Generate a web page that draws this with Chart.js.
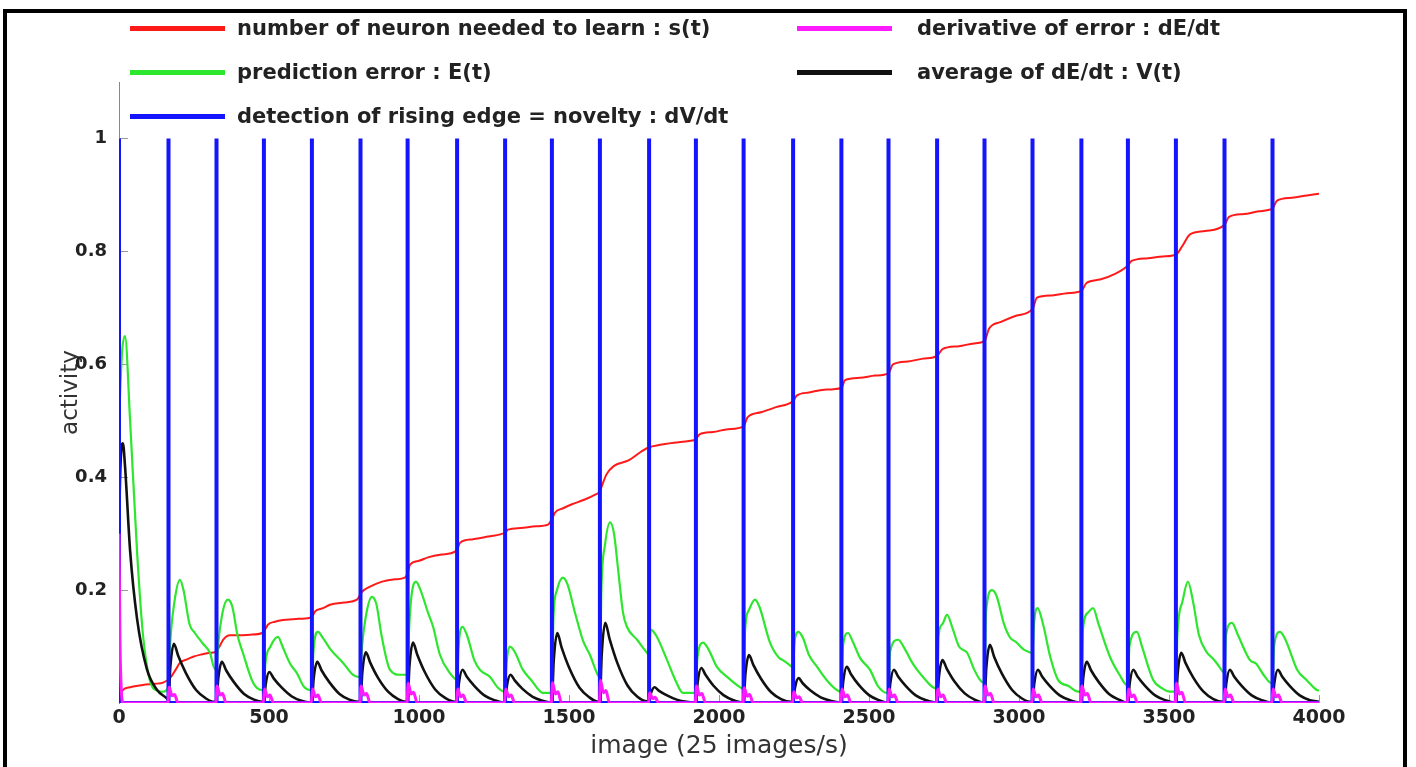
<!DOCTYPE html>
<html>
<head>
<meta charset="utf-8">
<script src="https://cdn.jsdelivr.net/npm/chart.js@4"></script>
<style>
  body { margin: 0; background: #fff; width: 1416px; height: 767px; overflow: hidden; position: relative; font-family: "DejaVu Sans", sans-serif; }
  #frame { position: absolute; left: 3px; top: 9px; width: 1396px; height: 800px; border: 4px solid #000; }
  #wrap { position: absolute; left: 0; top: 0; width: 1416px; height: 767px; }
  .leg { position: absolute; height: 24px; display: flex; align-items: center; font-weight: bold; font-size: 21px; color: #222; white-space: nowrap; }
  .leg .sw { display: inline-block; width: 95px; height: 5px; }
</style>
</head>
<body>
<div id="frame"></div>
<div id="wrap"><canvas id="chart"></canvas></div>
<div id="legend"></div>
<script>
// series labels and colours
const labels = {
  s: "number of neuron needed to learn : s(t)",
  dE: "derivative of error : dE/dt",
  E: "prediction error : E(t)",
  V: "average of dE/dt : V(t)",
  dV: "detection of rising edge = novelty : dV/dt",
};

const xTicks = [0, 500, 1000, 1500, 2000, 2500, 3000, 3500, 4000];
const yTicks = [0.2, 0.4, 0.6, 0.8, 1];

// novelty spikes (image index where dV/dt fires)
const blueX = [0, 165, 325, 483, 643, 805, 962, 1127, 1287, 1443, 1603, 1767, 1923,
  2082, 2247, 2408, 2565, 2727, 2885, 3045, 3208, 3363, 3523, 3685, 3845];
const blueY = [1, 1, 1, 1, 1, 1, 1, 1, 1, 1, 1, 1, 1, 1, 1, 1, 1, 1, 1, 1, 1, 1, 1, 1, 1];

// s(t)
const redPts = [[0,0.012],[13,0.023],[37,0.028],[80,0.032],[120,0.034],[147,0.036],[170,0.044],[190,0.06],
  [203,0.071],[225,0.077],[247,0.082],[275,0.086],[303,0.089],[320,0.09],[335,0.1],[347,0.112],[370,0.12],
  [400,0.12],[437,0.121],[477,0.124],[490,0.133],[497,0.139],[520,0.144],[547,0.147],[590,0.149],[637,0.151],
  [648,0.157],[653,0.162],[680,0.168],[703,0.174],[750,0.178],[793,0.183],[810,0.197],[840,0.207],[877,0.215],
  [920,0.219],[953,0.222],[962,0.23],[970,0.245],[1000,0.252],[1030,0.258],[1075,0.263],[1120,0.268],
  [1130,0.276],[1137,0.284],[1180,0.29],[1230,0.295],[1287,0.302],[1297,0.307],[1340,0.31],[1390,0.313],
  [1430,0.316],[1445,0.328],[1453,0.337],[1480,0.345],[1510,0.352],[1550,0.36],[1587,0.369],[1603,0.375],
  [1610,0.385],[1625,0.405],[1650,0.42],[1700,0.43],[1740,0.445],[1767,0.453],[1800,0.457],[1850,0.461],
  [1900,0.464],[1923,0.467],[1935,0.476],[1980,0.48],[2030,0.485],[2082,0.49],[2095,0.506],[2140,0.515],
  [2190,0.524],[2247,0.535],[2260,0.545],[2300,0.55],[2350,0.555],[2408,0.558],[2420,0.572],[2470,0.576],
  [2520,0.58],[2565,0.584],[2580,0.6],[2630,0.605],[2680,0.61],[2727,0.615],[2745,0.627],[2800,0.632],
  [2850,0.637],[2885,0.641],[2900,0.663],[2940,0.675],[2990,0.686],[3045,0.698],[3060,0.718],[3110,0.722],
  [3160,0.726],[3208,0.73],[3225,0.744],[3270,0.75],[3320,0.76],[3363,0.775],[3375,0.783],[3430,0.788],
  [3480,0.791],[3523,0.794],[3545,0.81],[3570,0.83],[3620,0.836],[3685,0.847],[3700,0.861],[3750,0.866],
  [3800,0.871],[3845,0.876],[3860,0.89],[3910,0.895],[3960,0.899],[4000,0.902]];

// E(t)
const greenPts = [[0,0.5],[10,0.62],[20,0.65],[37,0.5],[60,0.27],[80,0.12],[103,0.04],[127,0.022],[145,0.02],[165,0.03],
  [170,0.1],[185,0.18],[203,0.218],[215,0.2],[235,0.14],[253,0.124],[280,0.105],[303,0.089],[320,0.06],
  [325,0.06],[330,0.1],[345,0.16],[363,0.183],[378,0.17],[395,0.12],[413,0.089],[447,0.036],[477,0.023],[483,0.025],
  [488,0.07],[505,0.1],[530,0.117],[545,0.1],[570,0.07],[593,0.053],[615,0.03],[637,0.023],[643,0.025],
  [648,0.09],[663,0.126],[680,0.115],[705,0.095],[747,0.071],[780,0.05],[803,0.046],
  [810,0.1],[825,0.16],[843,0.188],[858,0.175],[875,0.12],[903,0.059],[937,0.05],[962,0.05],
  [967,0.13],[975,0.19],[990,0.215],[1005,0.2],[1030,0.16],[1047,0.135],[1070,0.085],[1103,0.053],[1127,0.041],
  [1132,0.1],[1145,0.135],[1160,0.12],[1185,0.075],[1203,0.059],[1237,0.046],[1263,0.027],[1287,0.02],
  [1292,0.07],[1303,0.1],[1320,0.09],[1345,0.06],[1375,0.04],[1413,0.018],[1443,0.018],
  [1448,0.15],[1460,0.2],[1480,0.222],[1495,0.21],[1520,0.16],[1547,0.11],[1570,0.085],[1593,0.053],[1603,0.045],
  [1608,0.2],[1620,0.28],[1637,0.32],[1650,0.3],[1665,0.23],[1680,0.16],[1693,0.135],[1727,0.112],[1760,0.089],[1767,0.085],
  [1772,0.13],[1790,0.12],[1827,0.076],[1855,0.04],[1880,0.018],[1923,0.018],
  [1928,0.08],[1947,0.107],[1965,0.095],[1993,0.064],[2030,0.045],[2070,0.028],[2082,0.025],
  [2087,0.13],[2100,0.165],[2120,0.183],[2135,0.17],[2170,0.107],[2200,0.08],[2213,0.076],[2243,0.064],[2247,0.062],
  [2252,0.11],[2265,0.126],[2280,0.115],[2300,0.085],[2327,0.064],[2360,0.04],[2393,0.023],[2408,0.02],
  [2413,0.1],[2430,0.124],[2445,0.11],[2470,0.08],[2503,0.059],[2530,0.03],[2560,0.018],[2565,0.018],
  [2570,0.09],[2597,0.112],[2615,0.1],[2640,0.075],[2660,0.059],[2690,0.04],[2713,0.028],[2727,0.026],
  [2732,0.12],[2745,0.14],[2760,0.156],[2780,0.13],[2800,0.1],[2827,0.089],[2850,0.06],[2870,0.041],[2885,0.035],
  [2890,0.16],[2910,0.2],[2925,0.19],[2950,0.14],[2970,0.116],[2990,0.108],[3015,0.095],[3040,0.089],[3045,0.088],
  [3050,0.14],[3062,0.168],[3080,0.14],[3105,0.08],[3130,0.041],[3165,0.03],[3197,0.02],[3208,0.02],
  [3213,0.13],[3230,0.16],[3247,0.168],[3265,0.14],[3303,0.082],[3335,0.05],[3360,0.032],[3363,0.032],
  [3368,0.1],[3393,0.126],[3410,0.1],[3447,0.041],[3480,0.025],[3503,0.02],[3523,0.02],
  [3528,0.12],[3545,0.18],[3563,0.215],[3580,0.18],[3600,0.12],[3627,0.089],[3640,0.082],[3660,0.07],[3680,0.055],[3685,0.053],
  [3690,0.12],[3710,0.142],[3730,0.12],[3770,0.076],[3790,0.07],[3815,0.05],[3837,0.036],[3845,0.035],
  [3850,0.1],[3870,0.126],[3890,0.11],[3927,0.059],[3960,0.04],[3993,0.023],[4000,0.022]];

// V(t)
const blackPts = [[0,0],[2,0.36],[13,0.46],[20,0.42],[37,0.27],[60,0.15],[93,0.06],[127,0.023],[160,0.008],
  [165,0.005],[171,0.063],[183,0.105],[197,0.084],[223,0.053],[257,0.023],[290,0.008],[318,0.002],
  [325,0.004],[331,0.044],[343,0.073],[357,0.058],[383,0.037],[417,0.016],[450,0.006],[478,0.002],
  [483,0.003],[489,0.033],[501,0.055],[515,0.044],[541,0.028],[575,0.012],[608,0.004],[636,0.001],
  [643,0.003],[649,0.044],[661,0.073],[675,0.058],[701,0.037],[735,0.016],[768,0.006],[798,0.002],
  [805,0.003],[811,0.054],[823,0.09],[837,0.072],[863,0.045],[897,0.02],[930,0.007],[958,0.002],
  [962,0.003],[968,0.064],[980,0.107],[994,0.086],[1020,0.054],[1054,0.024],[1087,0.009],[1120,0.002],
  [1127,0.003],[1133,0.035],[1145,0.059],[1159,0.047],[1185,0.03],[1219,0.013],[1252,0.005],[1282,0.001],
  [1287,0.002],[1293,0.03],[1305,0.05],[1319,0.04],[1345,0.025],[1379,0.011],[1412,0.004],[1438,0.001],
  [1443,0.003],[1449,0.074],[1461,0.124],[1475,0.099],[1501,0.062],[1535,0.027],[1568,0.01],[1598,0.002],
  [1603,0.004],[1609,0.085],[1621,0.142],[1635,0.114],[1661,0.071],[1695,0.031],[1728,0.011],[1760,0.003],
  [1767,0.003],[1773,0.017],[1785,0.028],[1799,0.022],[1825,0.014],[1859,0.006],[1892,0.002],[1918,0.001],
  [1923,0.002],[1929,0.037],[1941,0.062],[1955,0.05],[1981,0.031],[2015,0.014],[2048,0.005],[2077,0.001],
  [2082,0.002],[2088,0.051],[2100,0.085],[2114,0.068],[2140,0.043],[2174,0.019],[2207,0.007],[2240,0.002],
  [2247,0.003],[2253,0.026],[2265,0.044],[2279,0.035],[2305,0.022],[2339,0.01],[2372,0.004],[2403,0.001],
  [2408,0.002],[2414,0.038],[2426,0.064],[2440,0.051],[2466,0.032],[2500,0.014],[2533,0.005],[2560,0.001],
  [2565,0.002],[2571,0.035],[2583,0.059],[2597,0.047],[2623,0.03],[2657,0.013],[2690,0.005],[2722,0.001],
  [2727,0.002],[2733,0.046],[2745,0.076],[2759,0.061],[2785,0.038],[2819,0.017],[2852,0.006],[2880,0.001],
  [2885,0.002],[2891,0.062],[2903,0.103],[2917,0.082],[2943,0.052],[2977,0.023],[3010,0.008],[3040,0.002],
  [3045,0.003],[3051,0.035],[3063,0.059],[3077,0.047],[3103,0.03],[3137,0.013],[3170,0.005],[3203,0.001],
  [3208,0.002],[3214,0.044],[3226,0.073],[3240,0.058],[3266,0.037],[3300,0.016],[3333,0.006],[3358,0.001],
  [3363,0.002],[3369,0.035],[3381,0.059],[3395,0.047],[3421,0.03],[3455,0.013],[3488,0.005],[3518,0.001],
  [3523,0.002],[3529,0.053],[3541,0.089],[3555,0.071],[3581,0.045],[3615,0.02],[3648,0.007],[3680,0.002],
  [3685,0.002],[3691,0.035],[3703,0.059],[3717,0.047],[3743,0.03],[3777,0.013],[3810,0.005],[3840,0.001],
  [3845,0.002],[3851,0.035],[3863,0.059],[3877,0.047],[3903,0.03],[3937,0.013],[3970,0.005],[4000,0.002]];

// dE/dt
const pinkPts = [[0,0.3],[3,0.12],[8,0.02],[14,0],
  [163,0],[167,0.028],[177,0.013],[185,0.015],[197,0],
  [323,0],[327,0.03],[337,0.014],[345,0.017],[357,0],
  [481,0],[485,0.025],[495,0.011],[503,0.014],[515,0],
  [641,0],[645,0.025],[655,0.011],[663,0.014],[675,0],
  [803,0],[807,0.03],[817,0.014],[825,0.017],[837,0],
  [960,0],[964,0.035],[974,0.016],[982,0.019],[994,0],
  [1125,0],[1129,0.025],[1139,0.011],[1147,0.014],[1159,0],
  [1285,0],[1289,0.025],[1299,0.011],[1307,0.014],[1319,0],
  [1441,0],[1445,0.036],[1455,0.016],[1463,0.02],[1475,0],
  [1601,0],[1605,0.04],[1615,0.018],[1623,0.022],[1635,0],
  [1765,0],[1769,0.018],[1779,0.008],[1787,0.01],[1799,0],
  [1921,0],[1925,0.03],[1935,0.014],[1943,0.017],[1955,0],
  [2080,0],[2084,0.027],[2094,0.012],[2102,0.015],[2114,0],
  [2245,0],[2249,0.02],[2259,0.009],[2267,0.011],[2279,0],
  [2406,0],[2410,0.025],[2420,0.011],[2428,0.014],[2440,0],
  [2563,0],[2567,0.025],[2577,0.011],[2585,0.014],[2597,0],
  [2725,0],[2729,0.025],[2739,0.011],[2747,0.014],[2759,0],
  [2883,0],[2887,0.03],[2897,0.014],[2905,0.017],[2917,0],
  [3043,0],[3047,0.025],[3057,0.011],[3065,0.014],[3077,0],
  [3206,0],[3210,0.03],[3220,0.014],[3228,0.017],[3240,0],
  [3361,0],[3365,0.025],[3375,0.011],[3383,0.014],[3395,0],
  [3521,0],[3525,0.035],[3535,0.016],[3543,0.019],[3555,0],
  [3683,0],[3687,0.025],[3697,0.011],[3705,0.014],[3717,0],
  [3843,0],[3847,0.025],[3857,0.011],[3865,0.014],[3877,0],
  [4000,0]];

const toXY = pts => pts.map(([x, y]) => ({ x, y }));

const blueData = [];
blueX.forEach((x, i) => {
  blueData.push({ x, y: 0 }, { x, y: blueY[i] }, { x, y: 0 });
});
blueData.push({ x: 4000, y: 0 });

const datasets = [
  { label: labels.s, data: toXY(redPts), borderColor: "#ff1a1a", borderWidth: 2, order: 4, cubicInterpolationMode: "monotone" },
  { label: labels.E, data: toXY(greenPts), borderColor: "#2ee62e", borderWidth: 2.2, order: 3, cubicInterpolationMode: "monotone" },
  { label: labels.V, data: toXY(blackPts), borderColor: "#111", borderWidth: 2.6, order: 2, cubicInterpolationMode: "monotone" },
  { label: labels.dV, data: blueData, borderColor: "#1414ff", borderWidth: 4, order: 1 },
  { label: labels.dE, data: toXY(pinkPts), borderColor: "#ff1aff", borderWidth: 3, order: 0, cubicInterpolationMode: "monotone" },
];

// legend as in the figure: two columns
const legendSlots = [
  { ds: 0, left: 130, top: 16, gap: 12 },
  { ds: 4, left: 797, top: 16, gap: 25 },
  { ds: 1, left: 130, top: 60, gap: 12 },
  { ds: 2, left: 797, top: 60, gap: 25 },
  { ds: 3, left: 130, top: 104, gap: 12 },
];
const legendEl = document.getElementById("legend");
legendSlots.forEach(slot => {
  const ds = datasets[slot.ds];
  const item = document.createElement("div");
  item.className = "leg";
  item.style.left = slot.left + "px";
  item.style.top = slot.top + "px";
  const sw = document.createElement("span");
  sw.className = "sw";
  sw.style.background = ds.borderColor;
  sw.style.marginRight = slot.gap + "px";
  item.appendChild(sw);
  item.appendChild(document.createTextNode(ds.label));
  legendEl.appendChild(item);
});

const innerTicks = {
  id: "innerTicks",
  beforeDatasetsDraw(chart) {
    const { ctx, chartArea, scales: { x, y } } = chart;
    ctx.save();
    ctx.strokeStyle = "#999";
    ctx.lineWidth = 1;
    ctx.beginPath();
    yTicks.forEach(v => {
      const py = Math.round(y.getPixelForValue(v)) + 0.5;
      ctx.moveTo(chartArea.left, py);
      ctx.lineTo(chartArea.left + 9, py);
    });
    xTicks.forEach(v => {
      const px = Math.round(x.getPixelForValue(v)) + 0.5;
      ctx.moveTo(px, chartArea.bottom);
      ctx.lineTo(px, chartArea.bottom - 8);
    });
    ctx.stroke();
    ctx.restore();
  },
};

new Chart(document.getElementById("chart"), {
  type: "line",
  data: { datasets },
  options: {
    responsive: true,
    maintainAspectRatio: false,
    animation: false,
    events: [],
    elements: { point: { radius: 0 }, line: { tension: 0 } },
    layout: { padding: { left: 57, right: 97, top: 82, bottom: 0 } },
    plugins: { legend: { display: false }, tooltip: { enabled: false } },
    scales: {
      x: {
        type: "linear",
        min: 0,
        max: 4000,
        afterBuildTicks: s => { s.ticks = xTicks.map(v => ({ value: v })); },
        afterFit: s => { s.height = 64; },
        grid: { display: false, drawTicks: false },
        border: { display: false },
        ticks: { padding: 4, color: "#222", font: { family: "DejaVu Sans", size: 19, weight: "bold" }, maxRotation: 0, callback: v => String(v) },
        title: { display: true, text: "image (25 images/s)", color: "#333", padding: { top: 0, bottom: 6 }, font: { family: "DejaVu Sans", size: 25 } },
      },
      y: {
        min: 0,
        max: 1.1,
        afterBuildTicks: s => { s.ticks = yTicks.map(v => ({ value: v })); },
        afterFit: s => { s.width = 62; },
        grid: { display: false, drawTicks: false },
        border: { display: true, color: "#888", width: 1 },
        ticks: { padding: 12, color: "#222", font: { family: "DejaVu Sans", size: 18, weight: "bold" }, callback: v => String(v) },
        title: { display: true, text: "activity", color: "#333", padding: 0, font: { family: "DejaVu Sans", size: 23 } },
      },
    },
  },
  plugins: [innerTicks],
});
</script>
</body>
</html>
